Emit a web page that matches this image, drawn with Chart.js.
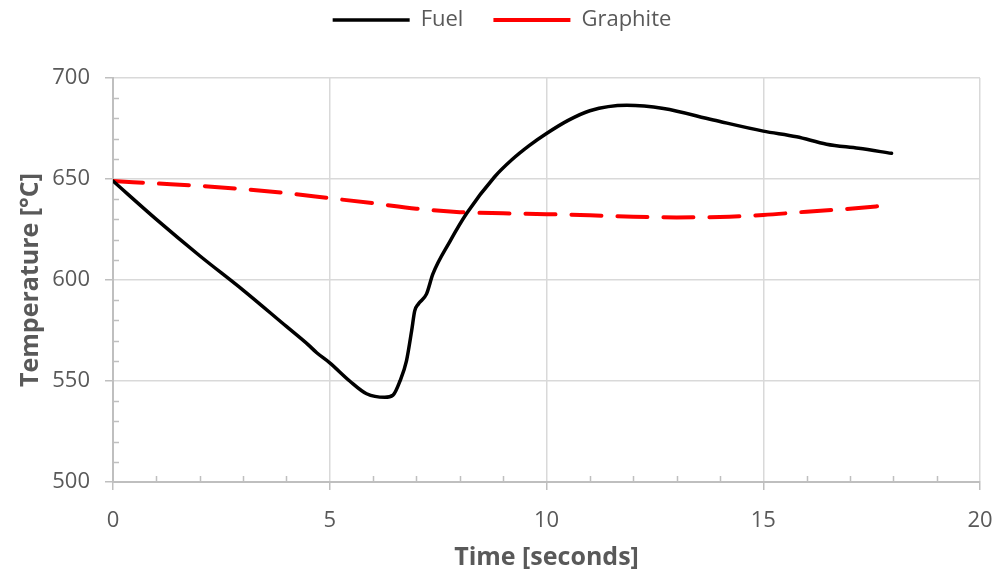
<!DOCTYPE html>
<html>
<head>
<meta charset="utf-8">
<script src="https://cdn.jsdelivr.net/npm/chart.js@4.4.1/dist/chart.umd.min.js"></script>
<style>
  html, body { margin: 0; padding: 0; background: #ffffff; }
  #wrap { width: 996px; height: 575px; position: relative; }
</style>
</head>
<body>
<div id="wrap"><canvas id="c" width="996" height="575"></canvas></div>
<script>
// ---- Data ----
const fuelTime = [0, 1, 2, 3, 4, 4.5, 4.7, 5, 5.46, 5.85, 6.27, 6.46, 6.62, 6.77, 6.89, 6.96, 7.04, 7.23, 7.38, 7.77, 8.16, 8.8, 9.2, 9.6, 10, 10.5, 11, 11.85, 12.7, 13.85, 15, 15.77, 16.46, 17.2, 17.96];
const fuelTemp = [649, 630, 612, 595, 577, 568, 564, 559, 550, 543.7, 541.9, 543, 550, 560, 575, 584.7, 588, 593, 603, 619, 633, 651, 659.5, 666.5, 672.5, 679, 683.8, 686.5, 684.9, 679.2, 673.7, 670.9, 667.2, 665.2, 662.7];

const graphiteTime = [0, 1, 2, 3, 4, 5, 6, 7, 8, 9, 10, 11, 12, 13, 14, 15, 16, 17, 17.9];
const graphiteTemp = [649, 647.8, 646.6, 645, 643, 640.5, 638, 635.3, 633.6, 633, 632.6, 632, 631.3, 631, 631.2, 632.2, 633.8, 635.3, 637];

const seriesNames = ["Fuel", "Graphite"];
const xTitle = "Time [seconds]";
const yTitle = "Temperature [°C]";
const xMin = 0, xMax = 20, xStep = 5, xMinorStep = 1;
const yMin = 500, yMax = 700, yStep = 50, yMinorStep = 10;

const FONT = "'Open Sans', 'Liberation Sans', sans-serif";
const TEXT = "#595959";
const AXIS = "#bfbfbf";
const GRID = "#d9d9d9";

function pts(xs, ys) { return xs.map((x, i) => ({ x: x, y: ys[i] })); }

// minor ticks drawn inside the plot area using the library's scales
const minorTicks = {
  id: 'minorTicks',
  afterDraw(chart) {
    const ctx = chart.ctx;
    const xs = chart.scales.x, ys = chart.scales.y;
    ctx.save();
    ctx.strokeStyle = AXIS;
    ctx.lineWidth = 1.5;
    ctx.beginPath();
    for (let v = yMin + yMinorStep; v < yMax; v += yMinorStep) {
      if (v % yStep === 0) continue;
      const py = Math.round(ys.getPixelForValue(v)) + 0.5;
      ctx.moveTo(xs.left, py);
      ctx.lineTo(xs.left + 6, py);
    }
    for (let v = xMin + xMinorStep; v < xMax; v += xMinorStep) {
      if (v % xStep === 0) continue;
      const px = Math.round(xs.getPixelForValue(v)) + 0.5;
      ctx.moveTo(px, ys.bottom);
      ctx.lineTo(px, ys.bottom - 6);
    }
    ctx.stroke();
    ctx.restore();
  }
};

const legendHeight = {
  id: 'legendHeight',
  beforeInit(chart) {
    const lg = chart.legend;
    if (!lg) return;
    const fit = lg.fit;
    lg.fit = function () { fit.call(this); this.height = 99; };
  }
};

new Chart(document.getElementById('c'), {
  type: 'line',
  data: {
    datasets: [
      {
        label: seriesNames[0],
        data: pts(fuelTime, fuelTemp),
        borderColor: '#000000',
        backgroundColor: '#000000',
        borderWidth: 3.5,
        pointRadius: 0,
        pointHoverRadius: 0,
        pointStyle: 'line',
        cubicInterpolationMode: 'monotone',
        borderCapStyle: 'round',
        borderJoinStyle: 'round',
        fill: false
      },
      {
        label: seriesNames[1],
        data: pts(graphiteTime, graphiteTemp),
        borderColor: '#ff0000',
        backgroundColor: '#ff0000',
        borderWidth: 4,
        borderDash: [30, 16],
        pointRadius: 0,
        pointHoverRadius: 0,
        pointStyle: 'line',
        cubicInterpolationMode: 'monotone',
        borderCapStyle: 'round',
        fill: false
      }
    ]
  },
  options: {
    responsive: false,
    animation: false,
    events: [],
    layout: { padding: { top: -21, left: 16, right: 8, bottom: 0 } },
    plugins: {
      tooltip: { enabled: false },
      legend: {
        display: true,
        position: 'top',
        align: 'center',
        labels: {
          usePointStyle: true,
          pointStyleWidth: 77,
          boxHeight: 22,
          padding: 30,
          color: TEXT,
          font: { family: FONT, size: 22 }
        }
      }
    },
    scales: {
      x: {
        type: 'linear',
        min: xMin, max: xMax,
        afterFit(s) { s.height = 93; s.paddingRight = 16; s.paddingLeft = 0; },
        ticks: {
          stepSize: xStep,
          color: TEXT,
          padding: 18,
          font: { family: FONT, size: 22 }
        },
        grid: {
          color: GRID,
          lineWidth: 1.5,
          drawTicks: true,
          tickLength: 8,
          tickColor: AXIS,
          tickWidth: 1.5
        },
        border: { display: true, color: AXIS, width: 2 },
        title: {
          display: true,
          text: xTitle,
          color: TEXT,
          font: { family: FONT, size: 25, weight: 'bold' },
          padding: { top: 2, bottom: 2 }
        }
      },
      y: {
        type: 'linear',
        min: yMin, max: yMax,
        afterFit(s) { s.width = 97; },
        ticks: {
          stepSize: yStep,
          color: TEXT,
          padding: 15,
          font: { family: FONT, size: 22 }
        },
        grid: {
          color: GRID,
          lineWidth: 1.5,
          drawTicks: true,
          tickLength: 8,
          tickColor: AXIS,
          tickWidth: 1.5
        },
        border: { display: true, color: AXIS, width: 2 },
        title: {
          display: true,
          text: yTitle,
          color: TEXT,
          font: { family: FONT, size: 25, weight: 'bold' },
          padding: { top: 0, bottom: 0 }
        }
      }
    }
  },
  plugins: [legendHeight, minorTicks]
});
</script>
</body>
</html>
